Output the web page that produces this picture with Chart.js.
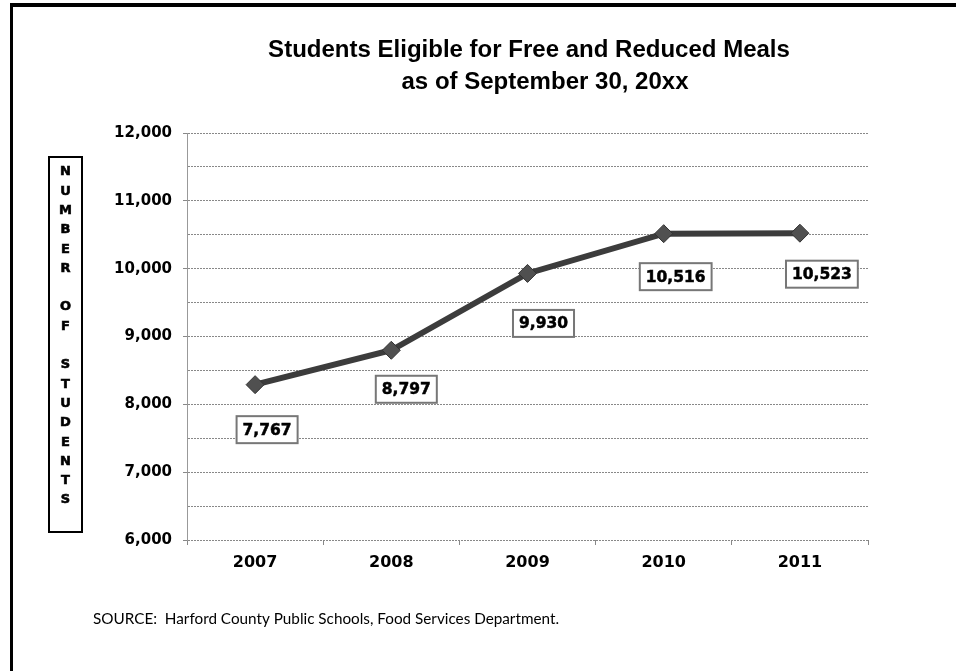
<!DOCTYPE html>
<html>
<head>
<meta charset="utf-8">
<script src="https://cdn.jsdelivr.net/npm/chart.js@4.4.0/dist/chart.umd.min.js"></script>
<style>
  html, body { margin: 0; padding: 0; background: #fff; }
  #wrap { position: relative; width: 956px; height: 671px; }
</style>
</head>
<body>
<div id="wrap"><canvas id="c" width="956" height="671"></canvas></div>
<script>
// ---- data ----
const categories = ['2007', '2008', '2009', '2010', '2011'];
const plottedValues = [8290, 8797, 9930, 10516, 10523];
const valueLabels = ['7,767', '8,797', '9,930', '10,516', '10,523'];
const yTickLabels = ['6,000', '7,000', '8,000', '9,000', '10,000', '11,000', '12,000'];
const titleLines = ['Students Eligible for Free and Reduced Meals', 'as of September 30, 20xx'];
const yAxisTitle = 'NUMBER OF STUDENTS';
const sourceText = 'SOURCE:  Harford County Public Schools, Food Services Department.';

// label placement relative to each point (px)
const labelOffsets = [[12, 45], [15, 39], [16, 50], [12, 43], [22, 41]];

function fitFont(ctx, text, weight, families, targetWidth) {
  ctx.font = weight + ' 20px ' + families;
  const w = ctx.measureText(text).width;
  return weight + ' ' + (20 * targetWidth / w).toFixed(2) + 'px ' + families;
}
function narrowAvailable(ctx) {
  ctx.font = 'bold 20px "Liberation Sans Narrow", monospace';
  const a = ctx.measureText('Students Eligible').width;
  ctx.font = 'bold 20px monospace';
  const b = ctx.measureText('Students Eligible').width;
  return Math.abs(a - b) > 0.5;
}

const decorPlugin = {
  id: 'decor',
  afterDraw(chart) {
    const ctx = chart.ctx;
    ctx.save();
    // frame
    ctx.fillStyle = '#000';
    ctx.fillRect(10, 3, 946, 4);
    ctx.fillRect(10, 3, 3, 668);
    // title
    const fam = narrowAvailable(ctx) ? '"Liberation Sans Narrow", "Liberation Sans", sans-serif' : '"Liberation Sans", Arial, sans-serif';
    ctx.fillStyle = '#000';
    ctx.textAlign = 'center';
    ctx.textBaseline = 'middle';
    ctx.font = fitFont(ctx, titleLines[0], 'bold', fam, 522);
    ctx.fillText(titleLines[0], 529, 50);
    ctx.fillText(titleLines[1], 545, 82);
    // y-axis title box
    ctx.lineWidth = 2;
    ctx.strokeStyle = '#000';
    ctx.strokeRect(49, 157, 33, 375);
    ctx.font = 'bold 13px "DejaVu Sans", sans-serif';
    ctx.lineWidth = 0.6;
    const chars = yAxisTitle.split('');
    chars.forEach((ch, i) => {
      if (ch !== ' ') {
        ctx.fillText(ch, 65.5, 172 + i * 19.3);
        ctx.strokeText(ch, 65.5, 172 + i * 19.3);
      }
    });
    // source
    ctx.textAlign = 'left';
    ctx.font = fitFont(ctx, sourceText, 'normal', 'Lato, "Open Sans", sans-serif', 466);
    ctx.fillText(sourceText, 93, 619);
    // value labels
    const meta = chart.getDatasetMeta(0);
    ctx.textAlign = 'center';
    meta.data.forEach((pt, i) => {
      ctx.font = 'bold 15.5px "DejaVu Sans", sans-serif';
      const cx = pt.x + labelOffsets[i][0];
      const cy = pt.y + labelOffsets[i][1];
      const w = ctx.measureText(valueLabels[i]).width + 12;
      const h = 27;
      ctx.fillStyle = '#fff';
      ctx.fillRect(cx - w / 2, cy - h / 2, w, h);
      ctx.strokeStyle = '#777';
      ctx.lineWidth = 2;
      ctx.strokeRect(cx - w / 2, cy - h / 2, w, h);
      ctx.fillStyle = '#000';
      ctx.strokeStyle = '#000';
      ctx.lineWidth = 0.5;
      ctx.fillText(valueLabels[i], cx, cy + 1);
      ctx.strokeText(valueLabels[i], cx, cy + 1);
    });
    ctx.restore();
  }
};

new Chart(document.getElementById('c'), {
  type: 'line',
  data: {
    labels: categories,
    datasets: [{
      data: plottedValues,
      borderColor: '#3c3c3c',
      borderWidth: 6,
      backgroundColor: '#555',
      pointStyle: 'rectRot',
      pointRadius: 9,
      pointBackgroundColor: '#505050',
      pointBorderColor: '#333',
      pointBorderWidth: 1,
      tension: 0,
      fill: false
    }]
  },
  options: {
    responsive: false,
    animation: false,
    devicePixelRatio: 1,
    layout: { padding: { left: 0, right: 88, top: 133, bottom: 91 } },
    plugins: { legend: { display: false }, title: { display: false }, tooltip: { enabled: false } },
    scales: {
      x: {
        type: 'category',
        offset: true,
        grid: { offset: true, drawOnChartArea: false, drawTicks: true, tickLength: 5, color: '#888' },
        border: { display: false },
        ticks: {
          color: '#000',
          padding: 8,
          font: { family: '"DejaVu Sans", sans-serif', weight: 'bold', size: 16 }
        },
        afterFit(scale) { scale.height = 40; }
      },
      y: {
        min: 6000,
        max: 12000,
        grid: {
          color: '#888',
          lineWidth: 1,
          tickLength: 4,
          tickColor: (c) => (c.tick && c.tick.value % 1000 === 0) ? '#888' : 'rgba(0,0,0,0)'
        },
        border: { display: true, color: '#999', dash: [2, 1] },
        ticks: {
          stepSize: 500,
          padding: 11,
          color: '#000',
          font: { family: '"DejaVu Sans", sans-serif', weight: 'bold', size: 15 },
          callback: (v) => {
            if (v % 1000 !== 0) return '';
            return yTickLabels[(v - 6000) / 1000];
          }
        },
        afterFit(scale) { scale.width = 187; }
      }
    }
  },
  plugins: [decorPlugin]
});
</script>
</body>
</html>
